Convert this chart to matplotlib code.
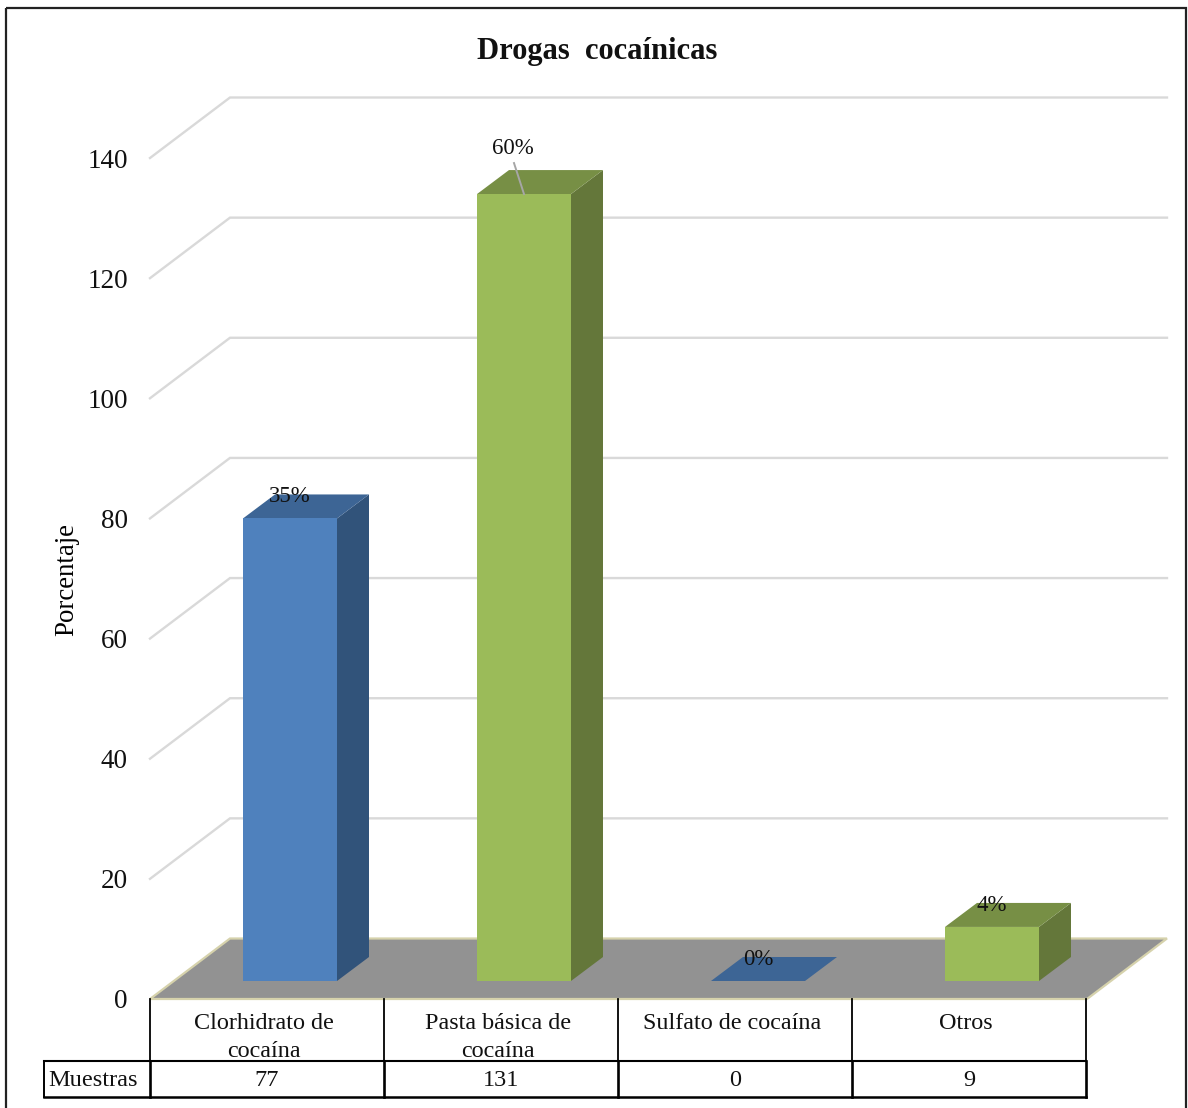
import matplotlib
matplotlib.use("Agg")
import matplotlib.pyplot as plt
from matplotlib.patches import Polygon, Rectangle
from matplotlib.lines import Line2D

categories = ["Clorhidrato de\ncocaína", "Pasta básica de\ncocaína", "Sulfato de cocaína", "Otros"]
samples = [77, 131, 0, 9]
percent_labels = ["35%", "60%", "0%", "4%"]
y_ticks = [0, 20, 40, 60, 80, 100, 120, 140]

FACE_BLUE = ("#4f81bd", "#3d6595", "#31537a")
FACE_GREEN = ("#9bbb59", "#778f45", "#64773a")
bar_faces = [FACE_BLUE, FACE_GREEN, FACE_BLUE, FACE_GREEN]

W, H = 1188, 1108
plt.rcParams["font.family"] = ["Liberation Serif", "DejaVu Serif"]
fig = plt.figure(figsize=(W / 100, H / 100), dpi=100, facecolor="white")

# Pixel-based layer for the frame, the title and the data table
page = fig.add_axes([0, 0, 1, 1], zorder=3)
page.set_xlim(0, W)
page.set_ylim(H, 0)
page.axis("off")
page.patch.set_alpha(0)

# Value axes: x in category units, y in sample counts
AX_L, AX_R, AX_B, AX_T = 150, 1167, 999, 97
CAT_W = 234
UNIT_PX = 841 / 140
ax = fig.add_axes([AX_L / W, 1 - AX_B / H, (AX_R - AX_L) / W, (AX_B - AX_T) / H], zorder=2)
ax.set_xlim(0, (AX_R - AX_L) / CAT_W)
ax.set_ylim(0, (AX_B - AX_T) / UNIT_PX)
ax.patch.set_alpha(0)
for spine in ax.spines.values():
    spine.set_visible(False)
ax.set_xticks([])
ax.set_yticks(y_ticks)
ax.tick_params(axis="y", length=0, pad=16, labelsize=19.5, labelcolor="#111111")
ax.set_ylabel("Porcentaje", fontsize=19.4, labelpad=0)
ax.yaxis.set_label_coords(-71 / (AX_R - AX_L), (AX_B - 580) / (AX_B - AX_T))

# Depth of the chart box and of each bar
wall_dx = 80 / CAT_W
wall_dy = 60.5 / UNIT_PX
bar_dx = 32 / CAT_W
bar_dy = 24 / UNIT_PX
bar_left = 93 / CAT_W
bar_w = 94 / CAT_W
bar_lift = 18 / UNIT_PX
x_end = ax.get_xlim()[1]

# Gridlines run up the side wall and along the back wall
for v in y_ticks:
    if v == 0:
        continue
    ax.plot([0, wall_dx, x_end], [v, v + wall_dy, v + wall_dy],
            color="#d9d9d9", lw=1.7, solid_joinstyle="miter", clip_on=False, zorder=1)

# Floor of the chart box
ax.add_patch(Polygon([(0, 0), (wall_dx, wall_dy), (x_end, wall_dy), (x_end - wall_dx, 0)],
                     closed=True, facecolor="#929292", edgecolor="#d6d2ac", lw=1.6,
                     clip_on=False, zorder=2))

# Bars as three visible faces
for i, (value, faces) in enumerate(zip(samples, bar_faces)):
    x0 = i + bar_left
    x1 = x0 + bar_w
    y0 = bar_lift
    y1 = y0 + value
    ax.add_patch(Polygon([(x1, y0), (x1 + bar_dx, y0 + bar_dy), (x1 + bar_dx, y1 + bar_dy), (x1, y1)],
                         closed=True, facecolor=faces[2], edgecolor="none", zorder=3))
    ax.add_patch(Polygon([(x0, y1), (x0 + bar_dx, y1 + bar_dy), (x1 + bar_dx, y1 + bar_dy), (x1, y1)],
                         closed=True, facecolor=faces[1], edgecolor="none", zorder=3))
    ax.add_patch(Rectangle((x0, y0), bar_w, value, facecolor=faces[0], edgecolor="none", zorder=3))

    label_x = x0 + bar_w / 2
    label_y = y1 + bar_dy - 2.5 / UNIT_PX
    if i == 1:
        # This label sits above the bar and is tied to it by a leader line
        ax.plot([x0 + bar_w / 2, x0 + bar_w / 2 - 10 / CAT_W], [y1, y1 + 31 / UNIT_PX],
                color="#a6a6a6", lw=1.4, zorder=4)
        label_x -= 11 / CAT_W
        label_y += 24 / UNIT_PX
    ax.text(label_x, label_y, percent_labels[i], ha="center", va="center",
            fontsize=16.5, color="#111111", zorder=5)

# Title
page.text(597, 51, "Drogas  cocaínicas", ha="center", va="center",
          fontsize=22, fontweight="bold", color="#111111")

# Outer frame
page.add_patch(Rectangle((6, 8), 1180, 1120, fill=False, edgecolor="#222222", lw=1.6, clip_on=True))

# Data table under the axis; the lower row is ruled more heavily on its bottom and right
T_LEFT, T_HEAD, T_TOP, T_ROW, T_BOTTOM = 44, 150, 999, 1061, 1097
edges = [T_HEAD + CAT_W * i for i in range(len(categories) + 1)]
for x in edges:
    page.add_line(Line2D([x, x], [T_TOP, T_ROW], color="black", lw=1.3))
    page.add_line(Line2D([x, x], [T_ROW, T_BOTTOM], color="black", lw=1.9))
page.add_line(Line2D([T_LEFT, T_LEFT], [T_ROW, T_BOTTOM], color="black", lw=1.4))
page.add_line(Line2D([T_LEFT, edges[-1]], [T_ROW, T_ROW], color="black", lw=1.5))
page.add_line(Line2D([T_LEFT, edges[-1]], [T_BOTTOM, T_BOTTOM], color="black", lw=1.8))

page.text(93, 1080, "Muestras", ha="center", va="center", fontsize=17.5, color="#111111")
for i, (name, n) in enumerate(zip(categories, samples)):
    cx = edges[i] + CAT_W / 2
    # Category names start on the same top line whether they wrap or not
    page.text(cx - 3, 1013, name, ha="center", va="top", fontsize=17.4,
              linespacing=1.44, color="#111111")
    page.text(cx, 1080, str(n), ha="center", va="center", fontsize=17.5, color="#111111")

fig.savefig("out.png", dpi=100)
